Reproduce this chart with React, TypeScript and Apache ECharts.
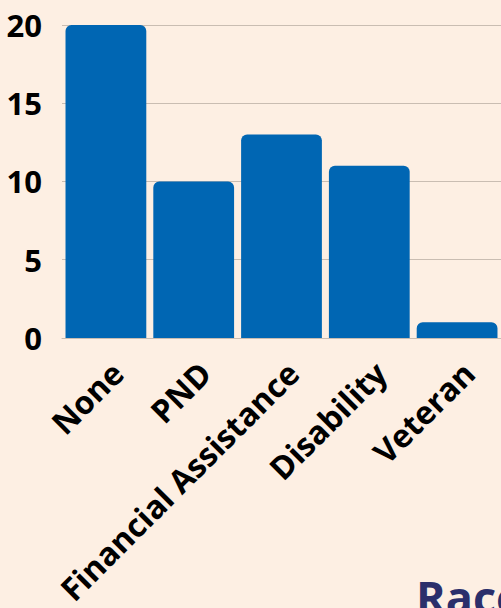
import React, { useEffect, useRef } from "react";
import * as echarts from "echarts";

const categories = ["None", "PND", "Financial Assistance", "Disability", "Veteran"];
const counts = [20, 10, 13, 11, 1];
const yTicks = [0, 5, 10, 15, 20];
const nextTitle = "Race";

export default function App() {
  const ref = useRef<HTMLDivElement>(null);
  useEffect(() => {
    document.body.style.margin = "0";
    const chart = echarts.init(ref.current!, null, { renderer: "svg" });
    chart.setOption({
      animation: false,
      backgroundColor: "#fdefe3",
      textStyle: { fontFamily: "Open Sans" },
      grid: { left: 62, right: -2, top: 25, bottom: 270, containLabel: false },
      xAxis: {
        type: "category",
        data: categories,
        axisTick: { show: false },
        axisLine: { show: true, lineStyle: { color: "#c9bdb2", width: 1 } },
        axisLabel: {
          rotate: 45,
          interval: 0,
          margin: 18,
          fontSize: 32,
          fontWeight: "bold",
          color: "#000",
          fontFamily: "Open Sans",
          verticalAlign: "top",
        },
      },
      yAxis: {
        type: "value",
        min: yTicks[0],
        max: yTicks[yTicks.length - 1],
        interval: 5,
        axisLine: { show: false },
        axisTick: { show: false },
        splitLine: { lineStyle: { color: "#c9bdb2", width: 1 } },
        axisLabel: {
          margin: 20,
          fontSize: 31,
          fontWeight: "bold",
          color: "#000",
          fontFamily: "Open Sans",
        },
      },
      series: [
        {
          type: "bar",
          data: counts,
          barCategoryGap: "8%",
          itemStyle: { color: "#0066b3", borderRadius: [6, 6, 0, 0] },
        },
      ],
      graphic: [
        {
          type: "text",
          left: 416,
          top: 574,
          style: {
            text: nextTitle,
            fontSize: 45,
            fontWeight: "bold",
            fill: "#2b2f6b",
            fontFamily: "Open Sans",
          },
        },
      ],
    });
    return () => chart.dispose();
  }, []);
  return <div ref={ref} style={{ width: 501, height: 608, position: "absolute", left: 0, top: 0 }} />;
}
